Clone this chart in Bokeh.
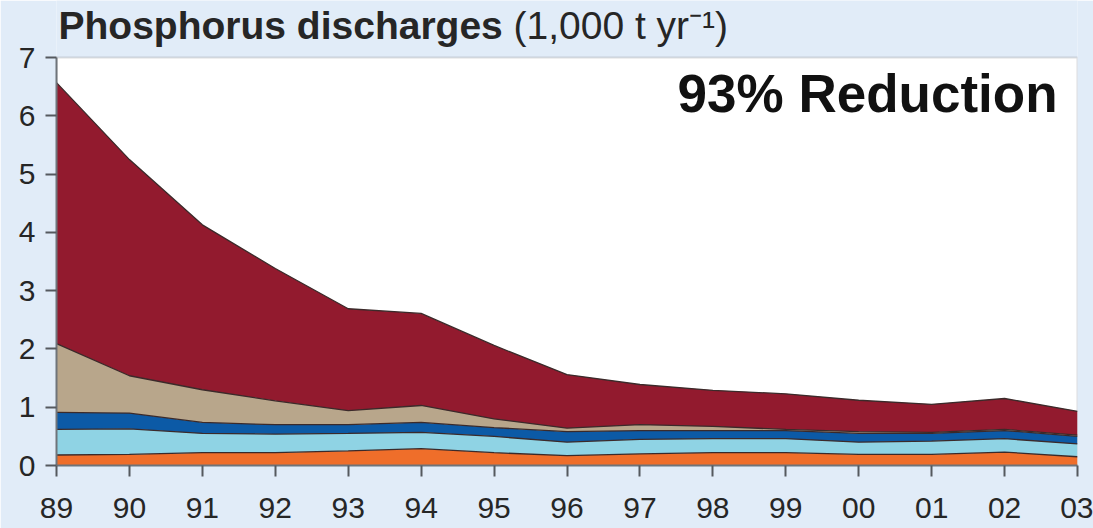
from bokeh.plotting import figure
from bokeh.models import ColumnDataSource, FixedTicker, Label, BoxAnnotation
from bokeh.embed import file_html
from bokeh.resources import INLINE

years = [1989, 1990, 1991, 1992, 1993, 1994, 1995, 1996, 1997, 1998, 1999, 2000, 2001, 2002, 2003]
year_labels = ["89", "90", "91", "92", "93", "94", "95", "96", "97", "98", "99", "00", "01", "02", "03"]
layer_names = ["orange", "lightblue", "blue", "tan", "red"]
orange = [0.18, 0.19, 0.22, 0.22, 0.25, 0.29, 0.22, 0.17, 0.20, 0.22, 0.22, 0.19, 0.19, 0.23, 0.15]
lightblue = [0.44, 0.44, 0.33, 0.32, 0.30, 0.28, 0.28, 0.23, 0.25, 0.24, 0.24, 0.21, 0.23, 0.23, 0.22]
blue = [0.29, 0.27, 0.19, 0.16, 0.15, 0.17, 0.15, 0.18, 0.15, 0.14, 0.14, 0.15, 0.13, 0.14, 0.13]
tan = [1.18, 0.64, 0.56, 0.41, 0.24, 0.29, 0.15, 0.06, 0.10, 0.07, 0.02, 0.03, 0.02, 0.02, 0.02]
red = [4.48, 3.71, 2.83, 2.27, 1.75, 1.58, 1.26, 0.92, 0.69, 0.62, 0.61, 0.54, 0.48, 0.53, 0.41]
y_ticks = [0, 1, 2, 3, 4, 5, 6, 7]

colors = ["#ef6e2a", "#8fd3e4", "#0c5aa6", "#b8a68b", "#921a2e"]
page_bg = "#e1ecf8"
font = "Liberation Sans"

source = ColumnDataSource(dict(year=years, orange=orange, lightblue=lightblue,
                               blue=blue, tan=tan, red=red))

p = figure(width=1093, height=528, output_backend="svg", toolbar_location=None,
           x_range=(years[0], years[-1]), y_range=(y_ticks[0], 7.98),
           min_border_left=56, min_border_right=16, min_border_top=0, min_border_bottom=63)

p.background_fill_color = page_bg
p.border_fill_color = page_bg
p.outline_line_color = None
p.xgrid.visible = False
p.ygrid.visible = False

p.add_layout(BoxAnnotation(left=years[0], right=years[-1], bottom=y_ticks[0], top=y_ticks[-1],
                           fill_color="white", fill_alpha=1, line_color="#8a8f96",
                           line_width=2, level="underlay"))

p.varea_stack(layer_names, x="year", source=source, fill_color=colors)
p.vline_stack(layer_names, x="year", source=source, line_color="#3b2a2a", line_width=1.3)

p.xaxis.ticker = FixedTicker(ticks=years)
p.xaxis.major_label_overrides = {y: l for y, l in zip(years, year_labels)}
p.yaxis.ticker = FixedTicker(ticks=y_ticks)
p.yaxis.bounds = (y_ticks[0], y_ticks[-1])
p.xaxis.minor_tick_line_color = None
p.yaxis.minor_tick_line_color = None
for ax in (p.xaxis, p.yaxis):
    ax.axis_line_color = "#6f747a"
    ax.axis_line_width = 2
    ax.major_tick_line_color = "#55595e"
    ax.major_tick_line_width = 2
    ax.major_tick_in = 0
    ax.major_tick_out = 11
    ax.major_label_text_font = font
    ax.major_label_text_font_size = "30px"
    ax.major_label_text_color = "#262626"
p.yaxis.major_label_standoff = 10
p.xaxis.major_label_standoff = 21

p.add_layout(Label(x=years[0], y=y_ticks[-1], x_offset=2, y_offset=32,
                   text="Phosphorus discharges", text_font=font, text_font_size="39px",
                   text_font_style="bold", text_color="#262626", text_baseline="alphabetic"))
p.add_layout(Label(x=years[0], y=y_ticks[-1], x_offset=457, y_offset=32,
                   text="(1,000 t yr\u207b\u00b9)", text_font=font, text_font_size="39px",
                   text_color="#262626", text_baseline="alphabetic"))
p.add_layout(Label(x=years[-1], y=y_ticks[-1], x_offset=-20, y_offset=-36,
                   text="93% Reduction", text_font=font, text_font_size="53px",
                   text_font_style="bold", text_color="#111111", text_align="right",
                   text_baseline="alphabetic"))

html = file_html(p, INLINE)
html = html.replace("<body>", '<body style="background:%s">' % page_bg, 1)
open("out.html", "w").write(html)
